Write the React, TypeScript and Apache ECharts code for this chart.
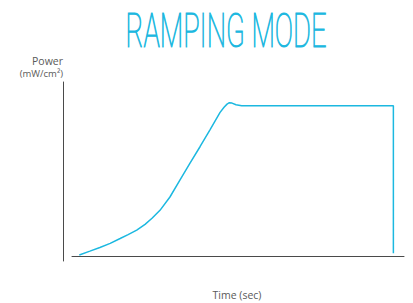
import React, { useEffect, useRef } from "react";
import * as echarts from "echarts";

const timeSec = [2.2, 5.4, 8.4, 11.5, 14.5, 16.9, 19.5, 22.0, 24.1, 26.5, 29.5, 32.5, 35.5, 38.6, 41.6, 44.6, 45.8, 46.7, 47.4, 48.2, 49.4, 51.1, 96.8, 96.8];
const power = [0.6, 2.8, 4.9, 7.3, 10.1, 12.4, 15.0, 18.3, 21.8, 26.4, 34.1, 43.8, 53.5, 63.3, 73.1, 83.0, 86.0, 87.8, 88.6, 88.4, 87.4, 86.9, 86.9, 1.6];

const titleText = "RAMPING MODE";
const yLabel1 = "Power";
const yLabel2 = "(mW/cm²)";
const xLabel = "Time (sec)";

export default function App() {
  const ref = useRef<HTMLDivElement>(null);
  useEffect(() => {
    const chart = echarts.init(ref.current!, null, { renderer: "svg" });
    const cyan = "#1cb8e0";
    const axisColor = "#4a4a4a";
    const labelColor = "#5a5a5a";
    chart.setOption({
      animation: false,
      grid: [
        { left: 72, right: 9, top: 83, bottom: 47 },
        { left: 63, width: 1, top: 82, bottom: 42 },
      ],
      xAxis: [
        {
          type: "value",
          gridIndex: 0,
          min: 0,
          max: 100,
          axisLine: { show: true, lineStyle: { color: axisColor, width: 1 } },
          axisTick: { show: false },
          axisLabel: { show: false },
          splitLine: { show: false },
        },
        { type: "value", gridIndex: 1, show: false, min: 0, max: 1 },
      ],
      yAxis: [
        { type: "value", gridIndex: 0, min: 0, max: 100, show: false },
        {
          type: "value",
          gridIndex: 1,
          min: 0,
          max: 1,
          axisLine: { show: true, lineStyle: { color: axisColor, width: 1 } },
          axisTick: { show: false },
          axisLabel: { show: false },
          splitLine: { show: false },
        },
      ],
      series: [
        {
          type: "line",
          xAxisIndex: 0,
          yAxisIndex: 0,
          data: timeSec.map((t, i) => [t, power[i]]),
          showSymbol: false,
          symbol: "none",
          lineStyle: { color: cyan, width: 1.5 },
        },
      ],
      graphic: [
        {
          type: "text",
          x: 226,
          y: 31,
          scaleX: 0.57,
          style: {
            text: titleText,
            fill: cyan,
            stroke: cyan,
            lineWidth: 1.1,
            font: "100 48px Roboto",
            textAlign: "center",
            textVerticalAlign: "middle",
          },
        },
        {
          type: "text",
          x: 63,
          y: 61,
          style: {
            text: yLabel1,
            fill: labelColor,
            font: "10.5px 'Open Sans'",
            textAlign: "right",
            textVerticalAlign: "middle",
          },
        },
        {
          type: "text",
          x: 63,
          y: 73,
          style: {
            text: yLabel2,
            fill: labelColor,
            font: "9.5px 'Open Sans'",
            textAlign: "right",
            textVerticalAlign: "middle",
          },
        },
        {
          type: "text",
          x: 237,
          y: 295,
          style: {
            text: xLabel,
            fill: labelColor,
            font: "10.5px 'Open Sans'",
            textAlign: "center",
            textVerticalAlign: "middle",
          },
        },
      ],
    });
    return () => chart.dispose();
  }, []);
  return <div ref={ref} style={{ width: 413, height: 303, position: "absolute", left: 0, top: 0 }} />;
}
